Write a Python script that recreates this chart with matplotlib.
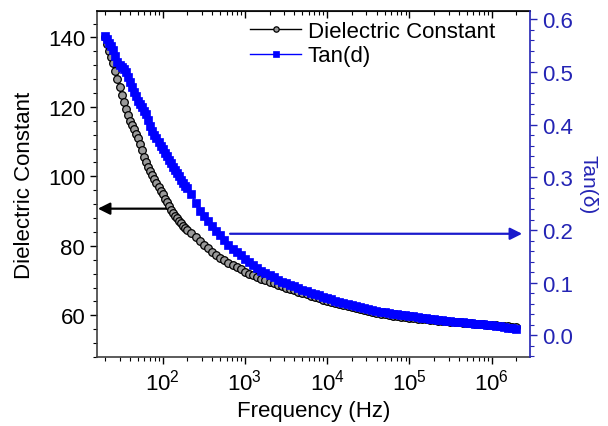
import matplotlib
matplotlib.use("Agg")
import matplotlib.pyplot as plt
from matplotlib.ticker import AutoMinorLocator, FixedLocator

plt.rcParams["font.family"] = ["Liberation Sans", "DejaVu Sans"]
plt.rcParams["mathtext.fontset"] = "custom"
plt.rcParams["mathtext.rm"] = "Liberation Sans"
plt.rcParams["mathtext.it"] = "Liberation Sans:italic"

# frequency grid (Hz): denser below 200 Hz, 20 points per decade above
freq_hz = [
    20.0, 21.1, 22.4, 23.7, 25.1, 26.6, 28.2, 29.9, 31.6, 33.5, 35.5, 37.6, 39.8, 42.2,
    44.7, 47.3, 50.1, 53.1, 56.2, 59.6, 63.1, 66.8, 70.8, 75.0, 79.4, 84.1, 89.1, 94.4,
    100, 106, 112, 119, 126, 133, 141, 150, 158, 168, 178, 188,
    200, 224, 251, 282, 316, 355, 398, 447, 501, 562, 631, 708, 794, 891,
    1.00e3, 1.12e3, 1.26e3, 1.41e3, 1.58e3, 1.78e3, 2.00e3, 2.24e3, 2.51e3, 2.82e3,
    3.16e3, 3.55e3, 3.98e3, 4.47e3, 5.01e3, 5.62e3, 6.31e3, 7.08e3, 7.94e3, 8.91e3,
    1.00e4, 1.12e4, 1.26e4, 1.41e4, 1.58e4, 1.78e4, 2.00e4, 2.24e4, 2.51e4, 2.82e4,
    3.16e4, 3.55e4, 3.98e4, 4.47e4, 5.01e4, 5.62e4, 6.31e4, 7.08e4, 7.94e4, 8.91e4,
    1.00e5, 1.12e5, 1.26e5, 1.41e5, 1.58e5, 1.78e5, 2.00e5, 2.24e5, 2.51e5, 2.82e5,
    3.16e5, 3.55e5, 3.98e5, 4.47e5, 5.01e5, 5.62e5, 6.31e5, 7.08e5, 7.94e5, 8.91e5,
    1.00e6, 1.12e6, 1.26e6, 1.41e6, 1.58e6, 1.78e6, 2.00e6,
]

dielectric = [
    140.0, 138.0, 136.0, 134.3, 132.6, 130.3, 128.0, 125.7, 123.5, 121.5, 119.5, 117.7, 116.0, 114.7,
    113.5, 112.2, 111.0, 109.3, 107.5, 105.7, 104.0, 102.7, 101.5, 100.4, 99.3, 98.1, 97.0, 95.9,
    94.8, 93.6, 92.5, 91.4, 90.3, 89.4, 88.6, 87.9, 87.2, 86.5, 85.8, 85.2,
    84.7, 83.6, 82.5, 81.4, 80.3, 79.3, 78.3, 77.4, 76.6, 75.8, 75.1, 74.4, 73.8, 73.2,
    72.6, 72.0, 71.5, 71.0, 70.5, 70.1, 69.6, 69.2, 68.8, 68.4,
    68.0, 67.6, 67.2, 66.8, 66.4, 66.0, 65.6, 65.2, 64.9, 64.5,
    64.2, 63.9, 63.5, 63.2, 62.9, 62.6, 62.3, 62.0, 61.7, 61.4,
    61.1, 60.9, 60.7, 60.5, 60.3, 60.1, 59.9, 59.7, 59.6, 59.4,
    59.3, 59.1, 59.0, 58.9, 58.8, 58.7, 58.6, 58.5, 58.4, 58.3,
    58.2, 58.1, 58.0, 57.9, 57.8, 57.7, 57.6, 57.5, 57.4, 57.3,
    57.2, 57.1, 57.0, 56.9, 56.8, 56.7, 56.6,
]

tan_delta = [
    0.568, 0.562, 0.556, 0.549, 0.541, 0.531, 0.520, 0.514, 0.510, 0.505, 0.500, 0.491, 0.482, 0.472,
    0.462, 0.454, 0.446, 0.440, 0.434, 0.427, 0.420, 0.409, 0.398, 0.389, 0.381, 0.374, 0.367, 0.360,
    0.354, 0.347, 0.341, 0.334, 0.327, 0.320, 0.314, 0.308, 0.302, 0.296, 0.290, 0.284,
    0.279, 0.268, 0.252, 0.236, 0.226, 0.217, 0.207, 0.198, 0.190, 0.181, 0.172, 0.164, 0.158, 0.152,
    0.146, 0.140, 0.134, 0.128, 0.123, 0.118, 0.114, 0.110, 0.106, 0.102,
    0.099, 0.096, 0.093, 0.090, 0.087, 0.084, 0.081, 0.078, 0.076, 0.073,
    0.071, 0.069, 0.066, 0.064, 0.062, 0.060, 0.058, 0.056, 0.054, 0.052,
    0.050, 0.048, 0.047, 0.045, 0.044, 0.042, 0.041, 0.040, 0.039, 0.038,
    0.037, 0.036, 0.035, 0.034, 0.033, 0.032, 0.031, 0.030, 0.029, 0.028,
    0.027, 0.026, 0.026, 0.025, 0.024, 0.023, 0.022, 0.022, 0.021, 0.020,
    0.019, 0.018, 0.017, 0.016, 0.015, 0.014, 0.013,
]

BLUE = "#0000ff"
BLUE_TXT = "#2424b4"
FS = 16

fig, ax = plt.subplots(figsize=(6.08, 4.27), dpi=100)
fig.subplots_adjust(left=97 / 608, right=530 / 608, top=1 - 12 / 427, bottom=1 - 358 / 427)
ax2 = ax.twinx()

l1, = ax.plot(freq_hz, dielectric, "-o", color="black", lw=1.0, ms=5.5,
              mfc="#9a9a9a", mec="black", mew=0.9, label="Dielectric Constant")
l2, = ax2.plot(freq_hz, tan_delta, "-s", color=BLUE, lw=1.0, ms=5.5,
               mfc=BLUE, mec=BLUE, mew=0.5, label="Tan(d)")

ax.set_xscale("log")
ax.set_xlim(15.9, 2.93e6)
ax.set_ylim(48.0, 147.6)
ax2.set_ylim(-0.041, 0.616)

ax.yaxis.set_major_locator(FixedLocator([60, 80, 100, 120, 140]))
ax.yaxis.set_minor_locator(AutoMinorLocator(5))
ax2.yaxis.set_major_locator(FixedLocator([0.0, 0.1, 0.2, 0.3, 0.4, 0.5, 0.6]))
ax2.yaxis.set_minor_locator(AutoMinorLocator(5))
ax2.yaxis.set_major_formatter(plt.FuncFormatter(lambda v, p: f"{v:.1f}"))

ax.tick_params(axis="x", which="both", direction="out", top=False, labelsize=FS)
ax.tick_params(axis="x", which="major", length=5, width=1)
ax.tick_params(axis="x", which="minor", length=3, width=0.8)
ax.tick_params(axis="y", which="major", direction="out", length=5, width=1, labelsize=FS, right=False)
ax.tick_params(axis="y", which="minor", direction="out", length=3, width=0.8, right=False)
ax2.tick_params(axis="y", which="major", direction="out", length=5, width=1,
                labelsize=FS, colors=BLUE_TXT)
ax2.tick_params(axis="y", which="minor", direction="out", length=3, width=0.8, colors=BLUE_TXT)

top = ax.secondary_xaxis("top")
top.tick_params(axis="x", which="both", direction="in", labeltop=False)
top.tick_params(axis="x", which="major", length=5, width=1)
top.tick_params(axis="x", which="minor", length=3, width=0.8)

for a in (ax, ax2):
    for s in a.spines.values():
        s.set_linewidth(1.2)
ax.spines["right"].set_visible(False)
ax2.spines["left"].set_visible(False)
ax2.spines["top"].set_visible(False)
ax2.spines["bottom"].set_visible(False)
ax2.spines["right"].set_color(BLUE_TXT)
ax.spines["left"].set_color("#404040")
ax.spines["bottom"].set_color("#404040")
top.spines["top"].set_color("#404040")

ax.set_xlabel("Frequency (Hz)", fontsize=FS, labelpad=4)
ax.set_ylabel("Dielectric Constant", fontsize=FS, labelpad=9)
ax2.set_ylabel("Tan(\u03b4)", fontsize=15, color=BLUE_TXT, rotation=270, labelpad=18)

ax.annotate("", xy=(16.3, 90.7), xytext=(111, 90.7),
            arrowprops=dict(arrowstyle="-|>", color="black", lw=1.6, mutation_scale=18,
                            shrinkA=0, shrinkB=0))
ax2.annotate("", xy=(2.35e6, 0.193), xytext=(660, 0.193),
             arrowprops=dict(arrowstyle="-|>", color="#1a1acc", lw=1.6, mutation_scale=18,
                             shrinkA=0, shrinkB=0))

ax2.legend([l1, l2], [l1.get_label(), l2.get_label()], loc="upper left",
           bbox_to_anchor=(250 / 608, 1 - 22 / 427), bbox_transform=fig.transFigure,
           frameon=False, fontsize=FS, handlelength=2.3, handletextpad=0.3,
           borderpad=0, borderaxespad=0, labelspacing=0.15, numpoints=1, markerscale=0.7)

fig.savefig("out.png", dpi=100)
